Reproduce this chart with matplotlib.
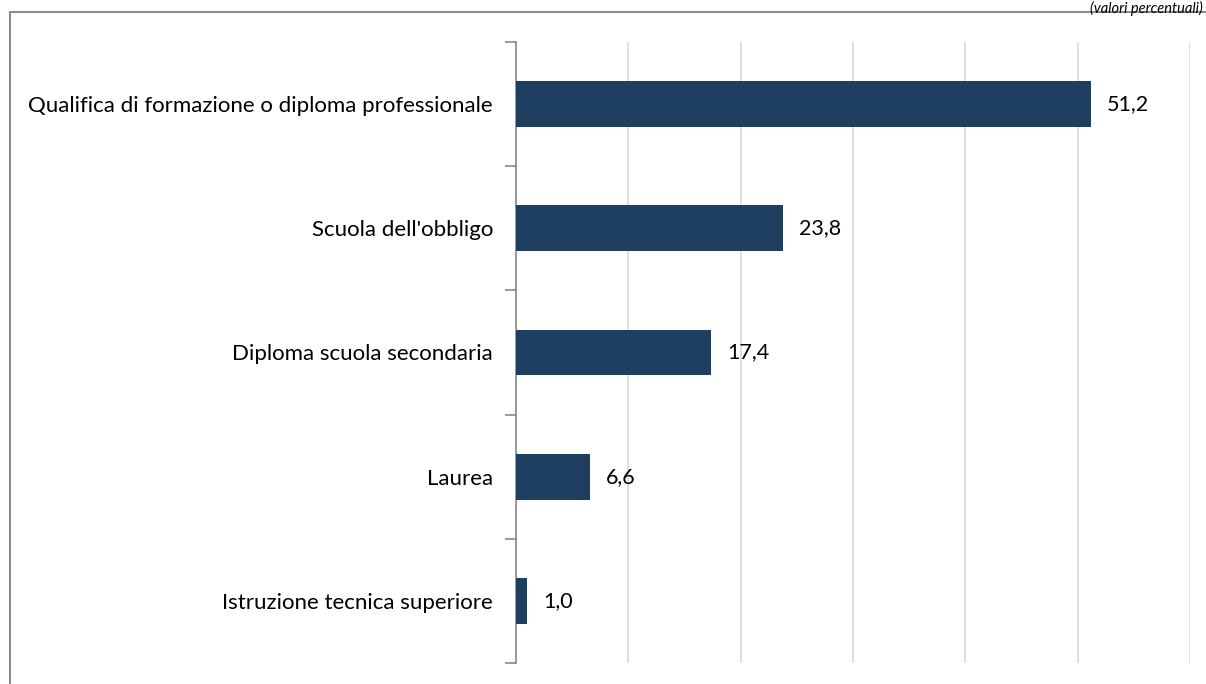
import matplotlib.pyplot as plt
from matplotlib.patches import Rectangle

categorie = ["Qualifica di formazione o diploma professionale",
             "Scuola dell'obbligo",
             "Diploma scuola secondaria",
             "Laurea",
             "Istruzione tecnica superiore"]
valori = [51.2, 23.8, 17.4, 6.6, 1.0]

plt.rcParams['font.family'] = ['Lato', 'DejaVu Sans']

fig = plt.figure(figsize=(12.06, 6.84), dpi=100)
ax = fig.add_axes([516/1206, 1 - 663/684, (1190 - 516)/1206, (663 - 42)/684])

pos = list(range(len(categorie)))
ax.barh(pos, valori, height=0.37, color='#1F3F61', zorder=3)
for p, v in zip(pos, valori):
    ax.annotate(f"{v:.1f}".replace('.', ','), (v, p), xytext=(11.5, 0),
                textcoords='offset points', va='center', ha='left', fontsize=15.5)

ax.set_xlim(0, 60)
ax.set_ylim(len(categorie) - 0.5, -0.5)
ax.set_xticks(range(0, 61, 10))
ax.set_xticklabels([])
ax.tick_params(axis='x', length=0)
ax.grid(axis='x', color='#D9D9D9', linewidth=1.2, zorder=0)

ax.set_yticks(pos)
ax.set_yticklabels(categorie, fontsize=16)
ax.tick_params(axis='y', length=0, pad=16.5)
ax.set_yticks([p - 0.5 for p in range(len(categorie) + 1)], minor=True)
ax.tick_params(axis='y', which='minor', length=8, color='#888888', width=1.2)

for s in ['top', 'right', 'bottom']:
    ax.spines[s].set_visible(False)
ax.spines['left'].set_color('#888888')
ax.spines['left'].set_linewidth(1.2)

# cornice esterna
fig.patches.append(Rectangle((10/1206, -0.1), 1.2, 1.1 - 12/684, transform=fig.transFigure,
                             fill=False, edgecolor='#8C8C8C', linewidth=1.5))
fig.text(1203/1206, 1 - 1/684, "(valori percentuali)", fontsize=10.5, style='italic',
         ha='right', va='top')

fig.savefig('out.png', dpi=100)
